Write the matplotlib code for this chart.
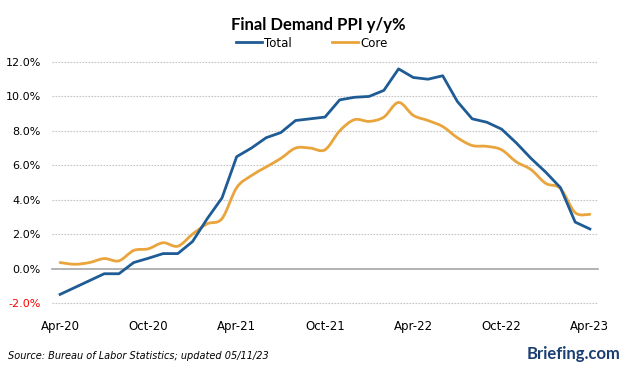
import matplotlib
matplotlib.use('Agg')
import matplotlib.pyplot as plt
from matplotlib.path import Path
from matplotlib.patches import PathPatch
from matplotlib.lines import Line2D
import numpy as np

# monthly, Apr-20 .. Apr-23
total = [-1.5, -1.1, -0.7, -0.3, -0.3, 0.35, 0.6, 0.87, 0.87, 1.57, 2.9, 4.1,
         6.5, 7.0, 7.6, 7.9, 8.6, 8.7, 8.8, 9.8, 9.95, 10.0, 10.35, 11.6,
         11.1, 11.0, 11.2, 9.7, 8.7, 8.5, 8.1, 7.3, 6.4, 5.6, 4.7, 2.7, 2.3]
core = [0.35, 0.25, 0.35, 0.58, 0.45, 1.05, 1.15, 1.5, 1.3, 2.0, 2.6, 2.9,
        4.7, 5.4, 5.9, 6.4, 7.0, 7.0, 6.9, 8.0, 8.65, 8.55, 8.8, 9.65,
        8.9, 8.6, 8.25, 7.6, 7.15, 7.1, 6.9, 6.2, 5.75, 4.95, 4.65, 3.25, 3.15]
tick_labels = ['Apr-20', 'Oct-20', 'Apr-21', 'Oct-21', 'Apr-22', 'Oct-22', 'Apr-23']
yticks = [-2, 0, 2, 4, 6, 8, 10, 12]

blue = '#1f5b94'
orange = '#e9a43c'


def smooth_path(x, y):
    # Catmull-Rom style bezier, like Excel's smoothed line
    verts = [(x[0], y[0])]
    codes = [Path.MOVETO]
    n = len(x)
    for i in range(n - 1):
        x0, y0 = (x[i - 1], y[i - 1]) if i > 0 else (x[i], y[i])
        x1, y1 = x[i], y[i]
        x2, y2 = x[i + 1], y[i + 1]
        x3, y3 = (x[i + 2], y[i + 2]) if i + 2 < n else (x2, y2)
        t = 1 / 6
        verts += [(x1 + (x2 - x0) * t, y1 + (y2 - y0) * t),
                  (x2 - (x3 - x1) * t, y2 - (y3 - y1) * t),
                  (x2, y2)]
        codes += [Path.CURVE4] * 3
    return Path(verts, codes)


fig = plt.figure(figsize=(6.24, 3.78), dpi=100)
ax = fig.add_axes([0.0833, 0.1984, 0.875, 0.6376])

x = np.arange(len(total))
for v in yticks:
    if v == 0:
        ax.axhline(0, color='#a6a6a6', lw=1.2, zorder=1, clip_on=False)
    else:
        ax.axhline(v, color='#c4c4c4', lw=0.8, ls=(0, (1.5, 1.2)), zorder=1, clip_on=False)

ax.add_patch(PathPatch(smooth_path(x, core), fill=False, edgecolor=orange,
                       lw=2.0, capstyle='round', joinstyle='round', zorder=3))
ax.plot(x, total, color=blue, lw=2.0, solid_joinstyle='round', zorder=4)

ax.set_xlim(-0.55, 36.55)
ax.set_ylim(-2, 12)
ax.set_yticks(yticks)
ylabs = ax.set_yticklabels(['%.1f%%' % v for v in yticks])
ylabs[0].set_color('#ff0000')
ax.set_xticks(range(0, 37, 6))
ax.set_xticklabels(tick_labels)
ax.tick_params(axis='y', length=0, pad=8, labelsize=8)
ax.tick_params(axis='x', length=0, pad=12, labelsize=8.5)
for s in ax.spines.values():
    s.set_visible(False)

fig.text(0.51, 0.935, 'Final Demand PPI y/y%', ha='center', va='center',
         fontsize=12, fontweight='bold', family='Lato')
handles = [Line2D([], [], color=blue, lw=2), Line2D([], [], color=orange, lw=2)]
fig.legend(handles, ['Total', 'Core'], loc='center', bbox_to_anchor=(0.5, 0.886),
           ncol=2, frameon=False, fontsize=8.5, handlelength=2.2, handletextpad=0.2,
           columnspacing=3.4)

fig.text(0.013, 0.058, 'Source: Bureau of Labor Statistics; updated 05/11/23',
         fontsize=7, style='italic', ha='left', va='center')
fig.text(0.994, 0.064, 'Briefing.com', fontsize=12, fontweight='bold',
         color='#1b3f73', ha='right', va='center', family='Lato')

fig.savefig('out.png', dpi=100)
